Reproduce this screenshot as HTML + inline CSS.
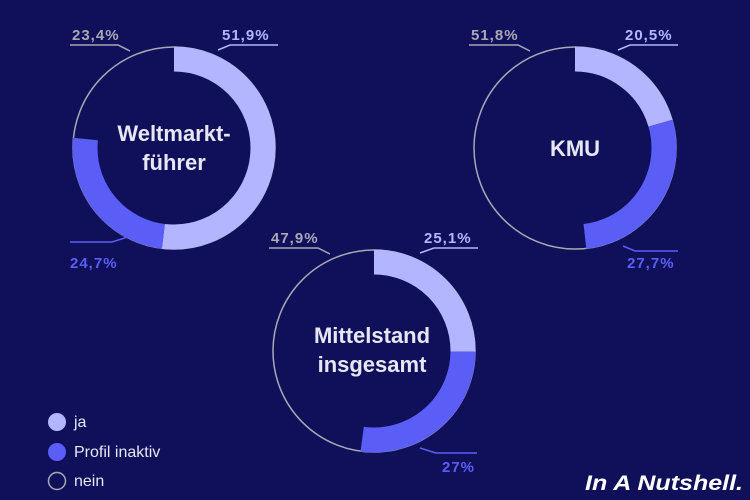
<!DOCTYPE html>
<html><head><meta charset="utf-8"><style>
html,body{margin:0;padding:0;background:#10105a;}
svg{display:block}
</style></head><body>
<svg width="750" height="500" viewBox="0 0 750 500" xmlns="http://www.w3.org/2000/svg" font-family="Liberation Sans, sans-serif">
<rect width="750" height="500" fill="#10105a"/>
<g transform="translate(174,148) rotate(-90)">
 <circle r="101" fill="none" stroke="#a8a8b4" stroke-width="1.5"/>
 <circle r="89" fill="none" stroke="#b3b6ff" stroke-width="25" stroke-dasharray="290.2 559.2"/>
 <circle r="89" fill="none" stroke="#5b5df7" stroke-width="25" stroke-dasharray="0 290.2 138.1 559.2"/>
</g>
<g transform="translate(575,148) rotate(-90)">
 <circle r="101" fill="none" stroke="#a8a8b4" stroke-width="1.5"/>
 <circle r="89" fill="none" stroke="#b3b6ff" stroke-width="25" stroke-dasharray="114.6 559.2"/>
 <circle r="89" fill="none" stroke="#5b5df7" stroke-width="25" stroke-dasharray="0 114.6 154.9 559.2"/>
</g>
<g transform="translate(374,351) rotate(-90)">
 <circle r="101" fill="none" stroke="#a8a8b4" stroke-width="1.5"/>
 <circle r="89" fill="none" stroke="#b3b6ff" stroke-width="25" stroke-dasharray="140.4 559.2"/>
 <circle r="89" fill="none" stroke="#5b5df7" stroke-width="25" stroke-dasharray="0 140.4 151 559.2"/>
</g>
<g font-weight="bold" fill="#e6e6f4" text-anchor="middle" font-size="22">
 <text x="174" y="141">Weltmarkt-</text><text x="174" y="170">führer</text>
 <text x="575" y="156">KMU</text>
 <text x="372" y="343">Mittelstand</text><text x="372" y="372">insgesamt</text>
</g>
<g font-size="15" font-weight="bold" letter-spacing="1" fill="none" stroke-width="1.5">
 <text x="72" y="40" fill="#a8a8b4" stroke="none">23,4%</text>
 <polyline points="70,45 118,45 130,51" stroke="#a8a8b4"/>
 <text x="222" y="40" fill="#b3b6ff" stroke="none">51,9%</text>
 <polyline points="278,45 230,45 218,50" stroke="#b3b6ff"/>
 <text x="70" y="268" fill="#5b5df7" stroke="none">24,7%</text>
 <polyline points="70,242 112,242 128,237" stroke="#5b5df7"/>

 <text x="471" y="40" fill="#a8a8b4" stroke="none">51,8%</text>
 <polyline points="469,45 518,45 530,51" stroke="#a8a8b4"/>
 <text x="625" y="40" fill="#b3b6ff" stroke="none">20,5%</text>
 <polyline points="678,45 630,45 618,50" stroke="#b3b6ff"/>
 <text x="627" y="268" fill="#5b5df7" stroke="none">27,7%</text>
 <polyline points="678,251 635,251 623,246" stroke="#5b5df7"/>

 <text x="271" y="243" fill="#a8a8b4" stroke="none">47,9%</text>
 <polyline points="269,248 318,248 330,254" stroke="#a8a8b4"/>
 <text x="424" y="243" fill="#b3b6ff" stroke="none">25,1%</text>
 <polyline points="478,248 434,248 420,253" stroke="#b3b6ff"/>
 <text x="442" y="472" fill="#5b5df7" stroke="none">27%</text>
 <polyline points="477,453 436,453 420,448" stroke="#5b5df7"/>
</g>
<g font-size="16" fill="#e6e6f4">
 <circle cx="57" cy="422" r="9" fill="#b3b6ff"/><text x="74" y="427">ja</text>
 <circle cx="57" cy="452" r="9" fill="#5b5df7"/><text x="74" y="457">Profil inaktiv</text>
 <circle cx="57" cy="481" r="8.5" fill="none" stroke="#a8a8b4" stroke-width="1.5"/><text x="74" y="486">nein</text>
</g>
<text x="585" y="490" font-size="21" font-style="italic" font-weight="bold" fill="#ffffff" textLength="158" lengthAdjust="spacingAndGlyphs">In A Nutshell.</text>
</svg>
</body></html>
